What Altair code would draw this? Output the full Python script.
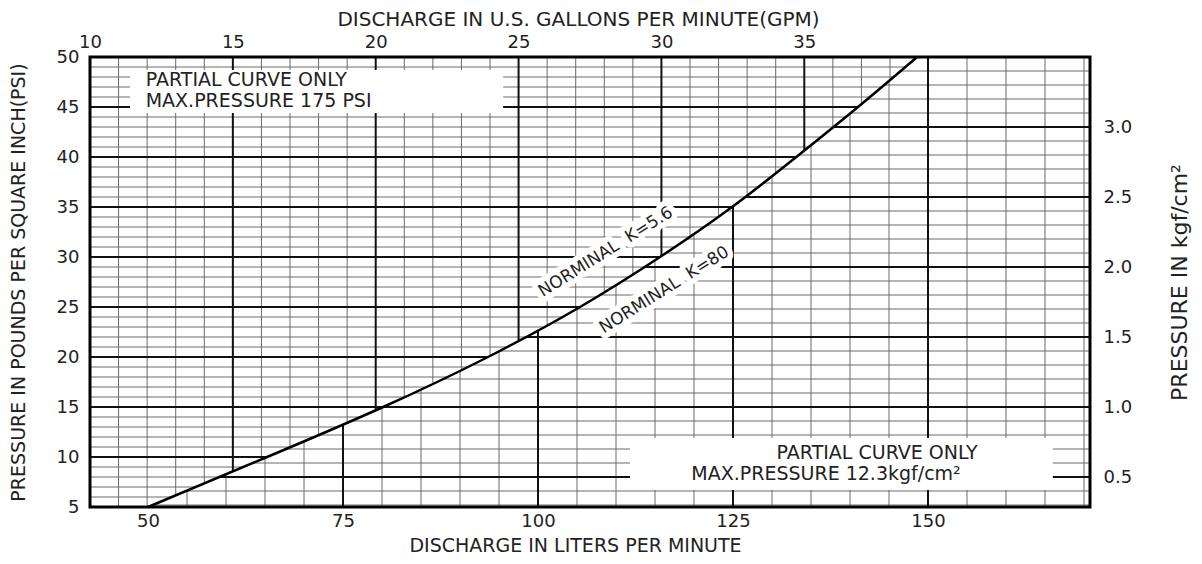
import altair as alt
import numpy as np
import pandas as pd

# ---------------- data ----------------
curve_gpm = [12.03, 16.20, 20.26, 23.93, 27.15, 29.95, 32.47, 34.72, 36.88, 38.95]
curve_psi = [5.0, 10.0, 15.0, 20.0, 25.0, 30.0, 35.0, 40.0, 45.0, 50.0]

gpm_ticks = [10, 15, 20, 25, 30, 35]
psi_ticks = [5, 10, 15, 20, 25, 30, 35, 40, 45, 50]
lpm_ticks = [50, 75, 100, 125, 150]
kgf_ticks = [0.5, 1.0, 1.5, 2.0, 2.5, 3.0]

# ---------------- scales ----------------
GPM_DOMAIN = [10, 45]
PSI_DOMAIN = [5, 50]
LPM_DOMAIN = [42.56, 170.77]
KGF_DOMAIN = [(5 - 1) / 14, (50 - 1) / 14]

FONT = "DejaVu Sans"
TXT = "#222222"
THIN = "#6a6a6a"
BOLD = "#111111"


def gpm_to_lpm(g):
    return LPM_DOMAIN[0] + (g - GPM_DOMAIN[0]) * (LPM_DOMAIN[1] - LPM_DOMAIN[0]) / (GPM_DOMAIN[1] - GPM_DOMAIN[0])


def lpm_to_gpm(l):
    return GPM_DOMAIN[0] + (l - LPM_DOMAIN[0]) * (GPM_DOMAIN[1] - GPM_DOMAIN[0]) / (LPM_DOMAIN[1] - LPM_DOMAIN[0])


def psi_to_kgf(p):
    return (p - 1) / 14


def curve_g_at(p):
    return float(np.interp(p, curve_psi, curve_gpm))


def curve_p_at(g):
    return float(np.interp(g, curve_gpm, curve_psi))


# ---------------- grid: PSI / GPM (above-left of curve) ----------------
a_rows = []
for p in range(6, 50):
    a_rows.append(dict(x=GPM_DOMAIN[0], x2=curve_g_at(p), y=p, y2=p, bold=(p % 5 == 0)))
for g in range(11, 39):
    lo = PSI_DOMAIN[0] if g <= curve_gpm[0] else curve_p_at(g)
    a_rows.append(dict(x=g, x2=g, y=lo, y2=PSI_DOMAIN[1], bold=(g % 5 == 0)))
a_grid = pd.DataFrame(a_rows)

# ---------------- grid: LPM / kgf (below-right of curve) ----------------
b_rows = []
for l in range(45, 171, 5):
    g = lpm_to_gpm(l)
    if g < curve_gpm[0]:
        continue
    hi = PSI_DOMAIN[1] if g >= curve_gpm[-1] else curve_p_at(g)
    b_rows.append(dict(x=l, x2=l, y=KGF_DOMAIN[0], y2=psi_to_kgf(hi), bold=(l % 25 == 0)))
for i in range(3, 35):
    k = i / 10
    p = 1 + 14 * k
    if p <= PSI_DOMAIN[0] or p >= PSI_DOMAIN[1]:
        continue
    b_rows.append(dict(x=gpm_to_lpm(curve_g_at(p)), x2=LPM_DOMAIN[1], y=k, y2=k, bold=(i % 5 == 0)))
b_grid = pd.DataFrame(b_rows)

curve_df = pd.DataFrame({"x": curve_gpm, "y": curve_psi})

# ---------------- annotations ----------------
boxes = pd.DataFrame({"x": [11.4, 28.9], "x2": [24.46, 43.7], "y": [44.4, 6.7], "y2": [48.7, 11.9]})
box_text_left = pd.DataFrame({"x": [11.95, 11.95], "y": [47.7, 45.6],
                              "t": ["PARTIAL CURVE ONLY", "MAX.PRESSURE 175 PSI"]})
box_text_mid = pd.DataFrame({"x": [37.55, 35.76], "y": [10.4, 8.3],
                             "t": ["PARTIAL CURVE ONLY", "MAX.PRESSURE 12.3kgf/cm²"]})
curve_labels = pd.DataFrame({"x": [28.05, 30.1], "y": [30.5, 26.7],
                             "t": ["NORMINAL\u00a0 K=5.6", "NORMINAL\u00a0 K=80"]})
frame = pd.DataFrame({"x": [GPM_DOMAIN[0]], "x2": [GPM_DOMAIN[1]], "y": [PSI_DOMAIN[0]], "y2": [PSI_DOMAIN[1]]})

# ---------------- axes ----------------
axis_top = alt.Axis(orient="top", values=gpm_ticks, title="DISCHARGE IN U.S. GALLONS PER MINUTE(GPM)",
                    ticks=False, domain=False, grid=False, labelFlush=False, labelOverlap=False,
                    labelFont=FONT, labelFontSize=18, labelColor=TXT, labelPadding=6,
                    titleFont=FONT, titleFontSize=20, titleFontWeight="normal", titleColor=TXT,
                    titlePadding=4, titleX=488)
axis_left = alt.Axis(orient="left", values=psi_ticks, title="PRESSURE IN POUNDS PER SQUARE INCH(PSI)",
                     ticks=False, domain=False, grid=False, labelOverlap=False,
                     labelFont=FONT, labelFontSize=18, labelColor=TXT, labelPadding=11,
                     titleFont=FONT, titleFontSize=19, titleFontWeight="normal", titleColor=TXT,
                     titlePadding=28)
axis_bottom = alt.Axis(orient="bottom", values=lpm_ticks, title="DISCHARGE IN LITERS PER MINUTE",
                       ticks=False, domain=False, grid=False, labelFlush=False, labelOverlap=False,
                       labelFont=FONT, labelFontSize=18, labelColor=TXT, labelPadding=5,
                       titleFont=FONT, titleFontSize=19, titleFontWeight="normal", titleColor=TXT,
                       titlePadding=6, titleX=485)
axis_right = alt.Axis(orient="right", values=kgf_ticks, format=".1f", title="PRESSURE IN kgf/cm²",
                      ticks=False, domain=False, grid=False, labelOverlap=False,
                      labelFont=FONT, labelFontSize=18, labelColor=TXT, labelPadding=13,
                      titleFont=FONT, titleFontSize=22, titleFontWeight="normal", titleColor=TXT,
                      titleAngle=270, titleBaseline="bottom", titlePadding=60)


def ax(f="x"):
    return alt.X(f"{f}:Q", scale=alt.Scale(domain=GPM_DOMAIN, nice=False, zero=False), axis=axis_top)


def ay(f="y"):
    return alt.Y(f"{f}:Q", scale=alt.Scale(domain=PSI_DOMAIN, nice=False, zero=False), axis=axis_left)


def bx(f="x"):
    return alt.X(f"{f}:Q", scale=alt.Scale(domain=LPM_DOMAIN, nice=False, zero=False), axis=axis_bottom)


def by(f="y"):
    return alt.Y(f"{f}:Q", scale=alt.Scale(domain=KGF_DOMAIN, nice=False, zero=False), axis=axis_right)


# ---------------- layers ----------------
b_base = alt.Chart(b_grid).encode(x=bx(), x2=alt.X2("x2:Q"), y=by(), y2=alt.Y2("y2:Q"))
b_thin = b_base.transform_filter("!datum.bold").mark_rule(color=THIN, strokeWidth=1)
b_bold = b_base.transform_filter("datum.bold").mark_rule(color=BOLD, strokeWidth=2)
group_b = alt.layer(b_thin, b_bold)

a_base = alt.Chart(a_grid).encode(x=ax(), x2=alt.X2("x2:Q"), y=ay(), y2=alt.Y2("y2:Q"))
a_thin = a_base.transform_filter("!datum.bold").mark_rule(color=THIN, strokeWidth=1)
a_bold = a_base.transform_filter("datum.bold").mark_rule(color=BOLD, strokeWidth=2)

box_layer = alt.Chart(boxes).mark_rect(color="white").encode(
    x=ax(), x2=alt.X2("x2:Q"), y=ay(), y2=alt.Y2("y2:Q"))
txt_left = alt.Chart(box_text_left).mark_text(align="left", baseline="middle", font=FONT,
                                              fontSize=19, color=TXT).encode(x=ax(), y=ay(), text="t:N")
txt_mid = alt.Chart(box_text_mid).mark_text(align="center", baseline="middle", font=FONT,
                                            fontSize=19, color=TXT).encode(x=ax(), y=ay(), text="t:N")
halo = alt.Chart(curve_labels).mark_text(align="center", baseline="middle", font=FONT, fontSize=17,
                                         angle=328, color="white", stroke="white", strokeWidth=11,
                                         strokeJoin="round").encode(x=ax(), y=ay(), text="t:N")
lab = alt.Chart(curve_labels).mark_text(align="center", baseline="middle", font=FONT, fontSize=17,
                                        angle=328, color=TXT).encode(x=ax(), y=ay(), text="t:N")
curve = alt.Chart(curve_df).mark_line(color="black", strokeWidth=2.5, interpolate="natural").encode(
    x=ax(), y=ay())
frame_layer = alt.Chart(frame).mark_rect(fillOpacity=0, stroke="black", strokeWidth=3).encode(
    x=ax(), x2=alt.X2("x2:Q"), y=ay(), y2=alt.Y2("y2:Q"))

group_a = alt.layer(a_thin, a_bold, box_layer, txt_left, txt_mid, halo, lab, curve, frame_layer)

chart = alt.layer(group_b, group_a).resolve_scale(x="independent", y="independent").properties(
    width=1000, height=450,
    autosize=alt.AutoSizeParams(type="none"),
    padding={"left": 82, "top": 49, "right": 104, "bottom": 49},
).configure_view(stroke="transparent").configure(background="white")

chart.save("out.html", embed_options={"renderer": "svg", "actions": False})
